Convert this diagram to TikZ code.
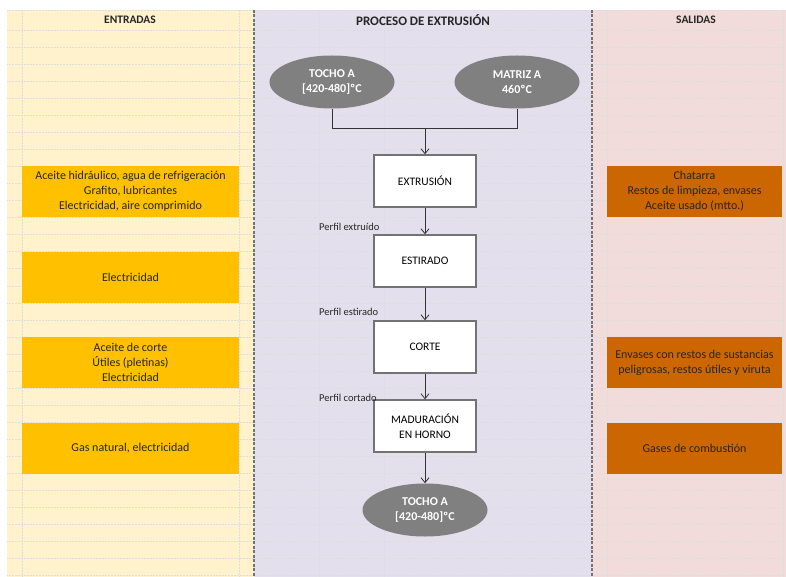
\documentclass[tikz,border=0pt]{standalone}
\usepackage{fontspec}
\setmainfont{Carlito}
\usetikzlibrary{arrows.meta,shapes.geometric}

\definecolor{creamin}{HTML}{FFF2CC}
\definecolor{lilacproc}{HTML}{E4DFEC}
\definecolor{pinkout}{HTML}{F2DCDB}
\definecolor{ambarin}{HTML}{FFC000}
\definecolor{rustout}{HTML}{CC6600}
\definecolor{tochogray}{HTML}{808080}

\tikzset{
  gridline/.style={draw=black!13, densely dotted, line width=0.5pt},
  panelsep/.style={draw=black!55, dashed, dash pattern=on 3pt off 1.5pt, line width=1.4pt},
  inbox/.style={fill=ambarin, minimum width=217pt, minimum height=51pt, inner sep=0pt,
    align=center, text=black!85, font=\fontsize{12}{15}\selectfont},
  outbox/.style={fill=rustout, minimum width=175pt, minimum height=51pt, inner sep=0pt,
    align=center, text=black!85, font=\fontsize{12}{15}\selectfont},
  tocho/.style={ellipse, fill=tochogray, minimum width=125pt, minimum height=53pt, inner sep=0pt,
    align=center, text=white, font=\bfseries\fontsize{12}{15}\selectfont},
  stepbox/.style={draw=black!55, line width=1.3pt, fill=white, minimum width=102pt, minimum height=52pt,
    inner sep=0pt, align=center, font=\fontsize{11.5}{15}\selectfont},
  perfil/.style={anchor=west, inner sep=0pt, text=black!85, font=\fontsize{10.5}{12}\selectfont},
  header/.style={font=\bfseries\fontsize{11.5}{13}\selectfont, text=black!85},
  flow/.style={draw=black!80, line width=0.8pt},
  arr/.style={flow, -{Straight Barb[length=5pt,width=8pt]}}
}

\begin{document}
\begin{tikzpicture}[x=1pt,y=-1pt]
  \useasboundingbox (0,0) rectangle (786,577);

  % Three column backgrounds
  \fill [creamin] (7,10) rectangle (254,577);
  \fill [lilacproc] (254,10) rectangle (592,577);
  \fill [pinkout] (592,10) rectangle (786,577);

  % Spreadsheet grid
  \foreach \k in {0,...,32} {
    \draw [gridline] (7,30+\k*17.05) -- (786,30+\k*17.05);
  }
  \foreach \gx in {22, 239, 319, 384, 607, 783} {
    \draw [gridline] (\gx,10) -- (\gx,577);
  }
  \draw [gridline] (7,10) -- (786,10);

  % Column separators
  \draw [panelsep] (254,10) -- (254,577);
  \draw [panelsep] (592,10) -- (592,577);

  % Headers
  \node [header] (hin) at (130,20) {ENTRADAS};
  \node [header, font=\bfseries\fontsize{13}{15}\selectfont] (hproc) at (423,20) {PROCESO DE EXTRUSIÓN};
  \node [header] (hout) at (696,20) {SALIDAS};

  % Inputs
  \node [inbox] (in1) at (130.5,191.5) {Aceite hidráulico, agua de refrigeración\\Grafito, lubricantes\\Electricidad, aire comprimido};
  \node [inbox] (in2) at (130.5,277) {Electricidad};
  \node [inbox] (in3) at (130.5,362.5) {Aceite de corte\\Útiles (pletinas)\\Electricidad};
  \node [inbox] (in4) at (130.5,448) {Gas natural, electricidad};

  % Outputs
  \node [outbox] (out1) at (694.5,191.5) {Chatarra\\Restos de limpieza, envases\\Aceite usado (mtto.)};
  \node [outbox] (out3) at (694.5,362.5) {Envases con restos de sustancias\\peligrosas, restos útiles y viruta};
  \node [outbox] (out4) at (694.5,448) {Gases de combustión};

  % Process flow
  \node [tocho] (tochoin) at (332,82) {TOCHO A\\{[420-480]ºC}};
  \node [tocho] (matriz) at (517,82) {MATRIZ A\\460ºC};
  \node [stepbox] (extr) at (425,181) {EXTRUSIÓN};
  \node [stepbox] (estir) at (425,261) {ESTIRADO};
  \node [stepbox] (corte) at (425,347) {CORTE};
  \node [stepbox] (madur) at (425,426) {MADURACIÓN\\EN HORNO};
  \node [tocho] (tochoout) at (425,510) {TOCHO A\\{[420-480]ºC}};

  \node [perfil] (pext) at (319,227) {Perfil extruído};
  \node [perfil] (pest) at (319,312) {Perfil estirado};
  \node [perfil] (pcor) at (319,398) {Perfil cortado};

  \coordinate (join) at (425,128);
  \draw [flow] (tochoin.south) -- (tochoin.south |- join) -| (matriz.south);
  \draw [arr] (join) -- (extr.north);
  \draw [arr] (extr) -- (estir);
  \draw [arr] (estir) -- (corte);
  \draw [arr] (corte) -- (madur);
  \draw [arr] (madur) -- (tochoout);
\end{tikzpicture}
\end{document}
